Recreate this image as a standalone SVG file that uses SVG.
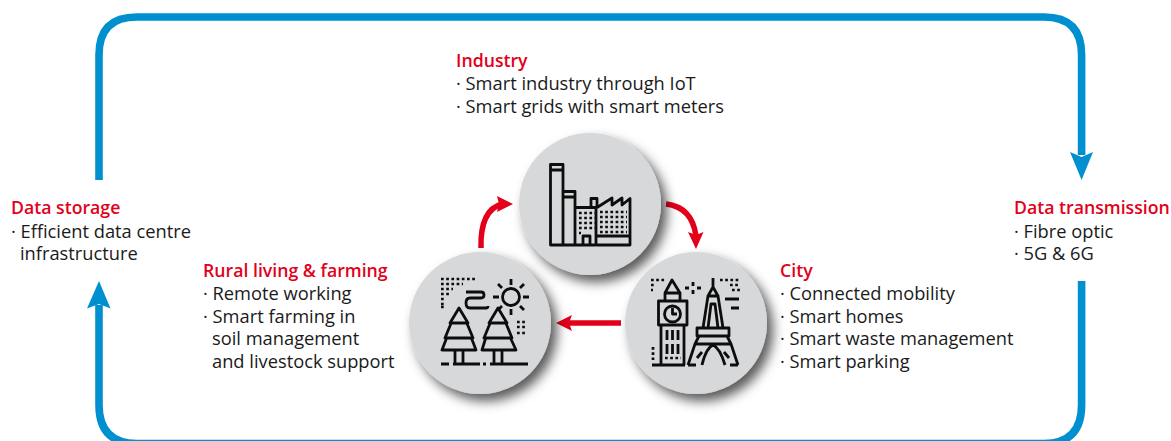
<svg xmlns="http://www.w3.org/2000/svg" width="1171" height="441" viewBox="0 0 1171 441">
<style>
text{font-family:"Open Sans","Noto Sans",sans-serif;font-size:18.3px;fill:#1a1a1a}
.h{font-weight:600;font-size:17.7px;fill:#e2001a}
.b{fill:none;stroke:#0090d0;stroke-width:7.6}
.bh{fill:#0090d0}
.r{fill:none;stroke:#e2001a;stroke-width:5.5}
.rh{fill:#e2001a}
.c{fill:#d7d8da;filter:url(#s)}
.i{fill:none;stroke:#0d0d0d;stroke-width:2.8;stroke-linejoin:round}
.d{fill:none;stroke:#0d0d0d;stroke-width:2.7;stroke-dasharray:2.7 2.5}
</style>
<defs><filter id="s" x="-30%" y="-30%" width="170%" height="170%"><feDropShadow dx="6" dy="7" stdDeviation="6" flood-color="#000" flood-opacity=".65"/></filter></defs>
<g id="connectors">
<path class="b" d="M99 180V55Q99 17 137 17H1044Q1081.600 17 1081.600 55V155"/>
<path class="bh" d="M1081.600 180L1070 152L1081.600 157L1093 152Z"/>
<path class="b" d="M1081.600 281V405Q1081.600 443.500 1044 443.500H137Q99 443.500 99 405V305"/>
<path class="bh" d="M99 281L87 308.500L99 304L110.500 308.500Z"/>
<path class="r" d="M666 204Q692 207 696 236"/>
<path class="rh" d="M696 249L688 232L696 235L703.500 232Z"/>
<path class="r" d="M481 248Q480 210 502 204"/>
<path class="rh" d="M513 204L497 196L499 204L497 212Z"/>
<path class="r" d="M621 323H568"/>
<path class="rh" d="M556 323L572 315L569 323L572 331Z"/>
</g>
<g id="industry">
<circle class="c" cx="590" cy="204" r="71"/>
<path class="i" d="M550.500 164.500H563V245H550.500ZM550.500 170H563M563 191.500H575V245M563 197H575M576 207.500H596V245H563M583 245V236H590V245M591 207V198.500H597V207.500M597 207.500L612 198L612 205L622 198L622 205L630 198.500V245H597M597 236H630"/>
<path class="d" d="M579 213H595M579 218H595M579 223H595M579 228H595M579 233H581M600 212H627M600 217H627M600 222H627M600 227H627M600 232H627"/>
<text x="456" y="67" class="h">Industry</text>
<text x="456" y="89.700">· Smart industry through IoT</text>
<text x="456" y="112.700">· Smart grids with smart meters</text>
</g>
<g id="city">
<circle class="c" cx="696" cy="323" r="71"/>
<path class="i" d="M672 280L665 293H680ZM665 293H680V301H665ZM658.500 301H687V325H658.500ZM661 325V365M684 325V365M652 365H685M667 330V340M672.500 330V340M678 330V340M667 344V354M672.500 344V354M678 344V354"/>
<circle class="i" cx="672.500" cy="314" r="8"/>
<path class="i" d="M672.500 308V314H677M713 278V287M713 287L708 296H718ZM708 296L703 328M718 296L723 328M711 304H715L718 328H708ZM697 328H729V336H697ZM699 336L695 344H731L727 336M695 344L688 365M731 344L738 365M688 365H696M730 365H738M702 365Q706 348 713 345Q720 348 725 365M693 278M693 282V286M693 290V294M685 288H689M697 288H701M725 299H739M731 308H739M697 358L702 352M729 358L724 352"/>
<path class="d" d="M651 280H665M651 285H655M651 290H653M720 280H740M730 285H740M732 290H740M653 347V362M665 358H681"/>
<text x="780" y="277" class="h">City</text>
<text x="780" y="299.700">· Connected mobility</text>
<text x="780" y="322.700">· Smart homes</text>
<text x="780" y="344.700">· Smart waste management</text>
<text x="780" y="367.700">· Smart parking</text>
</g>
<g id="rural">
<circle class="c" cx="480" cy="323" r="71"/>
<path class="i" d="M466 292H481Q484 292 484 295T481 298H470Q466 298 466 303T470 308H486Q488 308 488 306"/>
<circle class="i" cx="511" cy="297" r="8.500"/>
<path class="i" d="M511 279V285M511 309V315M493 297H499M523 297H529M498 284L502 288M524 284L520 288M498 310L502 306M524 310L520 306"/>
<path class="i" d="M459 308L450 323H468ZM452 321L445 338H473L466 321M447 337L442 350H476L471 337M455 350V364M463 350V364M498 308L489 323H507ZM491 321L484 338H512L505 321M486 337L482 350H516L510 337M494 350V364M502 350V364M441 364H449M453 364H480M483 364H486M490 364H528"/>
<path class="d" d="M441 279H477M441 284H463M441 289H453M441 294H449M441 299H445M441 304H445M441 307H445M517 322H526M517 327H526M517 333H526"/>
<text x="203" y="277" class="h">Rural living &amp; farming</text>
<text x="203" y="299.700">· Remote working</text>
<text x="203" y="322.700">· Smart farming in</text>
<text x="212" y="344.700">soil management</text>
<text x="212" y="367.700">and livestock support</text>
</g>
<g id="storage">
<text x="11" y="214" class="h">Data storage</text>
<text x="11" y="237.700">· Efficient data centre</text>
<text x="20" y="259.700">infrastructure</text>
</g>
<g id="transmission">
<text x="1014" y="214" class="h">Data transmission</text>
<text x="1014" y="237.700">· Fibre optic</text>
<text x="1014" y="259.700">· 5G &amp; 6G</text>
</g>
</svg>
